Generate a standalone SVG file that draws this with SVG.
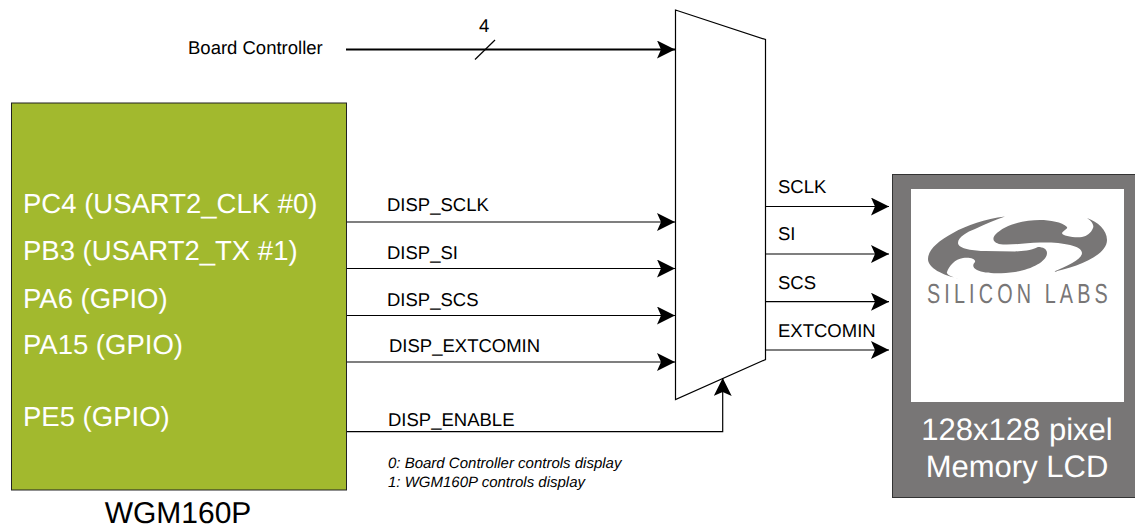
<svg xmlns="http://www.w3.org/2000/svg" width="1135" height="529" viewBox="0 0 1135 529">
<style>
text{font-family:"Liberation Sans",Arial,sans-serif;text-rendering:geometricPrecision}
.sig{font-size:18.5px;fill:#000}
.pin{font-size:27.5px;fill:#fff}
.note{font-size:15px;font-style:italic;fill:#000}
.lcd{font-size:31px;fill:#fff;text-anchor:middle}
.ln{fill:none;stroke:#000;stroke-width:1.2}
</style>
<defs>
<marker id="arr" markerUnits="userSpaceOnUse" markerWidth="18" markerHeight="18" refX="18" refY="9" orient="auto">
<path d="M0 0L18 9L0 18L4 9Z" fill="#000"/>
</marker>
</defs>
<rect width="1135" height="529" fill="#fff"/>
<g id="wgm160p">
<rect x="11.5" y="103" width="335" height="387" fill="#a2b92e" stroke="#222" stroke-width="1"/>
<text class="pin" x="23" y="213">PC4 (USART2_CLK #0)</text>
<text class="pin" x="23" y="260">PB3 (USART2_TX #1)</text>
<text class="pin" x="23" y="307.500">PA6 (GPIO)</text>
<text class="pin" x="23" y="354">PA15 (GPIO)</text>
<text class="pin" x="23" y="426">PE5 (GPIO)</text>
<text x="178" y="522.500" font-size="30" text-anchor="middle" fill="#000">WGM160P</text>
</g>
<g id="mux">
<polygon points="675.5,10 765.5,39.5 765.5,359.5 675.5,399.5" fill="#fff" stroke="#000" stroke-width="1.2"/>
</g>
<g id="lcd">
<rect x="892.5" y="174.5" width="243" height="323" fill="#787676" stroke="#333" stroke-width="1"/>
<rect x="911" y="189" width="213" height="213" fill="#fff"/>
<path fill="#787676" d="M1005 216.500C985 219 967 225 953 233C938 241 928 250 928 259C928 268 942 275 960 279C950 277 946 274 947 272C949 266 955 259 963 258C970 257 976 259 975 262C972 265 973 268 977 270C985 274 1000 274 1015 272C1033 269 1047 261 1047 253C1047 249 1043 247 1038 247C1030 251 1022 251 1015 251.500L985 251C975 251 958 249 958 243C958 237 967 232 975 229C985 224 995 220 1005 216.500Z"/>
<path fill="#787676" d="M1087 218C1093 222 1094 226 1093 228C1091 233 1087 236 1082 237C1075 238 1062 236 1062 233C1064 230 1068 229 1067 227C1062 222 1050 220 1040 220C1025 220 1005 224 995 235C991 240 995 244 1003 244.500C1015 245 1025 243 1040 242.500C1060 242 1082 245 1082 253C1082 259 1068 266 1053 272C1072 268 1107 257 1107 240C1107 230 1098 222 1087 218Z"/>
<text transform="translate(927 303) scale(.72 1)" font-size="27.500" textLength="251" lengthAdjust="spacing" fill="#787676">SILICON LABS</text>
<text class="lcd" x="1017" y="440">128x128 pixel</text>
<text class="lcd" x="1017" y="477">Memory LCD</text>
</g>
<g id="connectors">
<path class="ln" d="M346 49.500H675" style="stroke-width:2" marker-end="url(#arr)"/>
<path class="ln" d="M475 59.500L495 40"/>
<path class="ln" d="M347 222H675" marker-end="url(#arr)"/>
<path class="ln" d="M347 268.500H675" marker-end="url(#arr)"/>
<path class="ln" d="M347 315.500H675" marker-end="url(#arr)"/>
<path class="ln" d="M347 362H675" marker-end="url(#arr)"/>
<path class="ln" d="M347 431.700H722.700V378" marker-end="url(#arr)"/>
<path class="ln" d="M766 206.500H889" marker-end="url(#arr)"/>
<path class="ln" d="M766 254H889" marker-end="url(#arr)"/>
<path class="ln" d="M766 301.700H889" marker-end="url(#arr)"/>
<path class="ln" d="M766 350H889" marker-end="url(#arr)"/>
</g>
<g id="labels">
<text class="sig" x="188" y="54">Board Controller</text>
<text class="sig" x="479" y="32">4</text>
<text class="sig" x="387" y="211">DISP_SCLK</text>
<text class="sig" x="387" y="258.500">DISP_SI</text>
<text class="sig" x="387" y="306">DISP_SCS</text>
<text class="sig" x="389" y="352">DISP_EXTCOMIN</text>
<text class="sig" x="388" y="425.500">DISP_ENABLE</text>
<text class="sig" x="778" y="192.700">SCLK</text>
<text class="sig" x="778" y="240">SI</text>
<text class="sig" x="778" y="289">SCS</text>
<text class="sig" x="778" y="336.700">EXTCOMIN</text>
<text class="note" x="388" y="468">0: Board Controller controls display</text>
<text class="note" x="388" y="487">1: WGM160P controls display</text>
</g>
</svg>
